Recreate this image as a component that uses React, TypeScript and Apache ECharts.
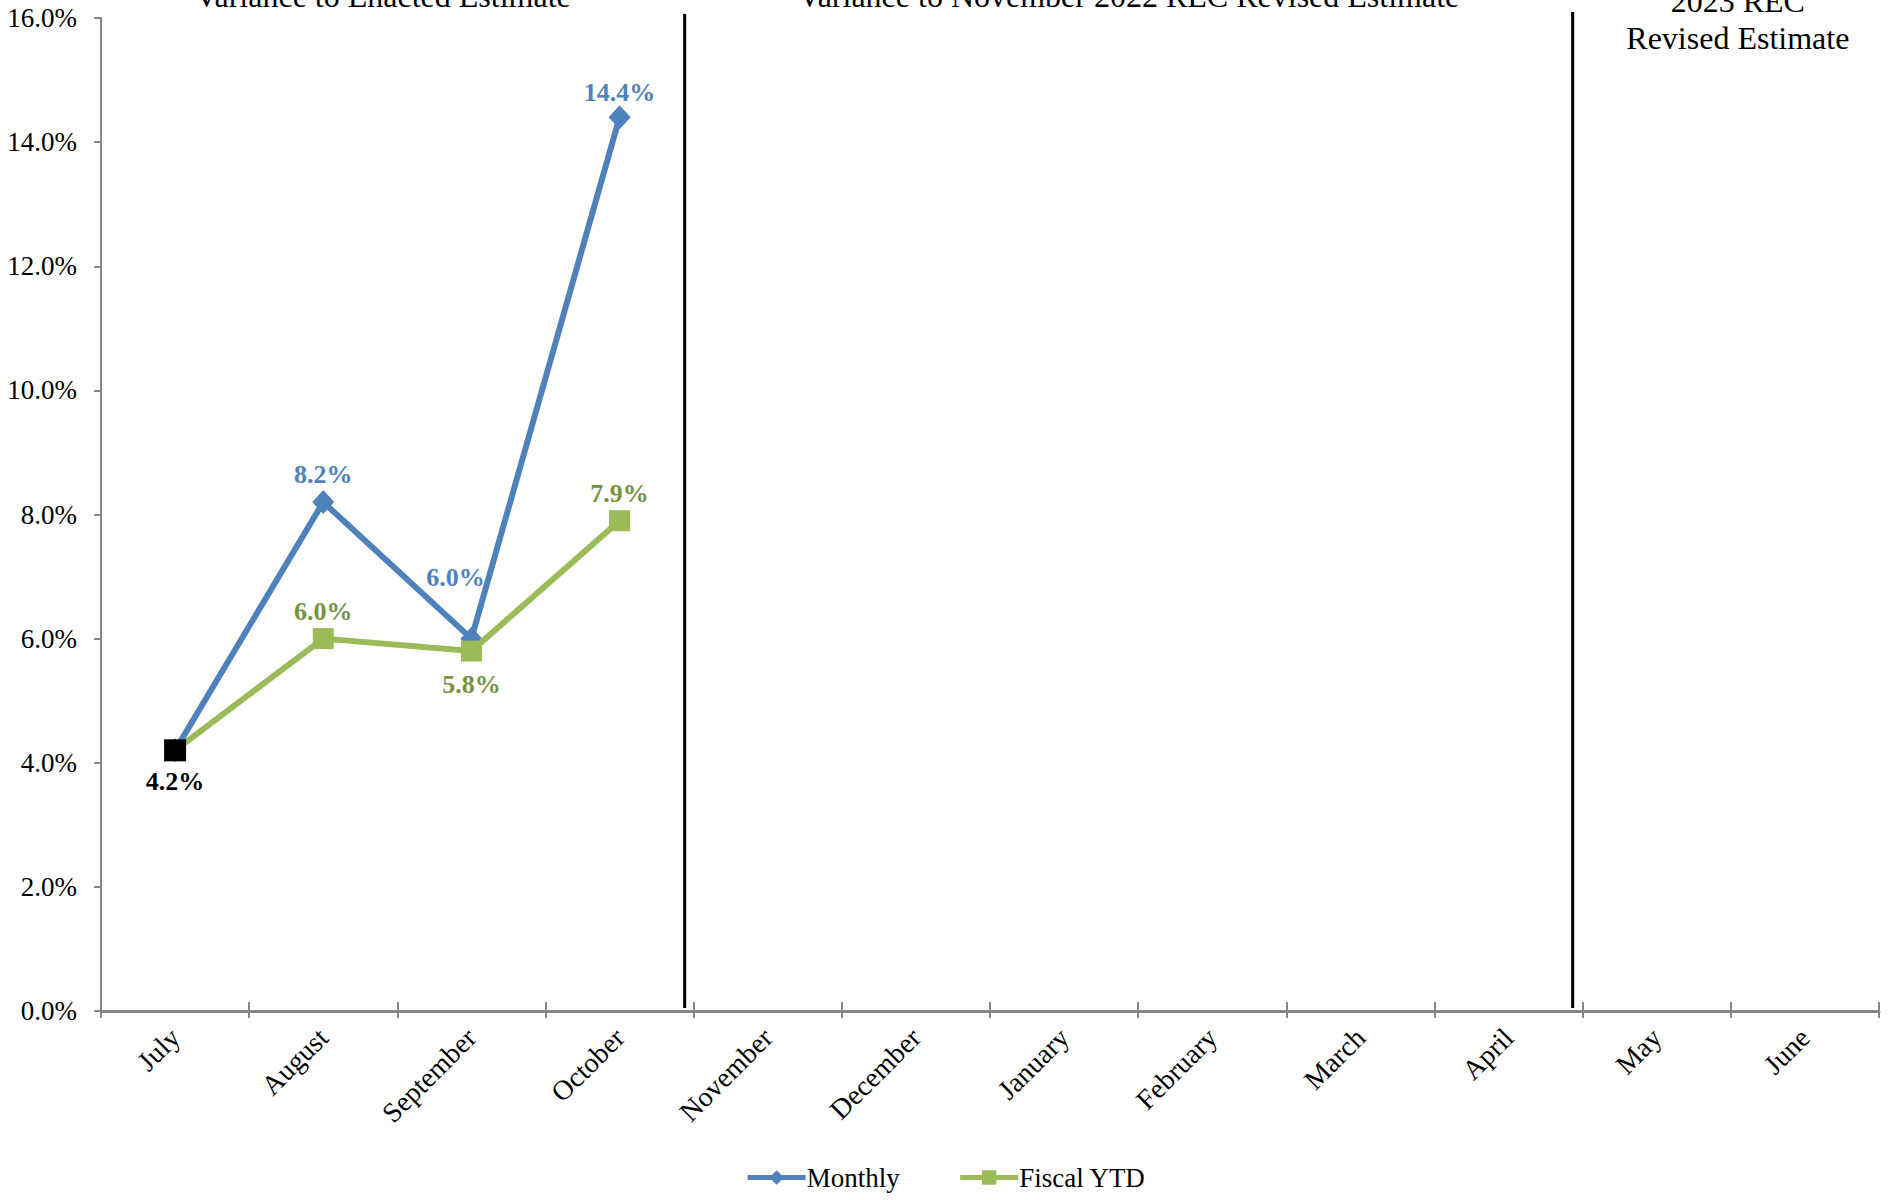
import React, { useEffect, useRef } from "react";
import * as echarts from "echarts";

const months = [
  "July", "August", "September", "October", "November", "December",
  "January", "February", "March", "April", "May", "June",
];
const monthlyValues: (number | null)[] = [4.2, 8.2, 6.0, 14.4, null, null, null, null, null, null, null, null];
const fiscalYtdValues: (number | null)[] = [4.2, 6.0, 5.8, 7.9, null, null, null, null, null, null, null, null];
const seriesNames = ["Monthly", "Fiscal YTD"];
const yMin = 0;
const yMax = 16;
const yInterval = 2;
const sectionTitles = [
  "Variance to Enacted Estimate",
  "Variance to November 2022 REC Revised Estimate",
  "2023 REC",
  "Revised Estimate",
];

const FONT = "'Liberation Serif', 'Times New Roman', serif";
const BLUE = "#4F81BD";
const GREEN = "#9BBB59";
const GREEN_LABEL = "#77933C";
const AXIS_GRAY = "#868686";
const GRID_LEFT = 101;

export default function App() {
  const ref = useRef<HTMLDivElement>(null);

  useEffect(() => {
    if (!ref.current) return;
    const chart = echarts.init(ref.current, null, { renderer: "svg" });

    const labelBase = {
      show: true,
      fontFamily: FONT,
      fontWeight: "bold" as const,
      fontSize: 26,
      formatter: (p: any) => `${Number(p.value).toFixed(1)}%`,
    };

    const monthlyData = monthlyValues.map((v, i) => {
      if (v === null) return null;
      if (i === 0) return { value: v, label: { show: false } };
      if (i === 2)
        return { value: v, label: { position: "top", distance: 3, offset: [-16, -33] } };
      if (i === 3) return { value: v, label: { position: "top", distance: 0 } };
      return { value: v, label: { position: "top", distance: 3 } };
    });

    const fiscalData = fiscalYtdValues.map((v, i) => {
      if (v === null) return null;
      if (i === 0)
        return {
          value: v,
          symbolSize: 22,
          itemStyle: { color: "#000000" },
          label: { position: "bottom", distance: 7, color: "#000000" },
        };
      if (i === 2) return { value: v, label: { position: "bottom", distance: 10 } };
      return { value: v, label: { position: "top", distance: 4 } };
    });

    const option: any = {
      animation: false,
      backgroundColor: "#ffffff",
      grid: { left: GRID_LEFT, right: 12, top: 18, bottom: 189, containLabel: false },
      legend: {
        data: seriesNames,
        bottom: 1200 - 1183 - 13,
        left: "center",
        itemWidth: 58,
        itemHeight: 18,
        itemGap: 58,
        lineStyle: { width: 5 },
        textStyle: { fontFamily: FONT, fontSize: 27, color: "#000000", padding: [0, 0, 0, -4] },
      },
      xAxis: [
        {
          type: "category",
          data: months,
          boundaryGap: true,
          axisLine: { show: true, lineStyle: { color: AXIS_GRAY, width: 3 } },
          axisTick: { show: true, length: 7, lineStyle: { color: AXIS_GRAY, width: 2 } },
          axisLabel: {
            interval: 0,
            rotate: 45,
            margin: 22,
            fontFamily: FONT,
            fontSize: 28,
            color: "#000000",
          },
          splitLine: { show: false },
        },
        {
          type: "category",
          data: months,
          boundaryGap: true,
          position: "bottom",
          axisLine: { show: false },
          axisTick: { show: true, inside: true, length: 9, lineStyle: { color: AXIS_GRAY, width: 2 } },
          axisLabel: { show: false },
          splitLine: { show: false },
        },
      ],
      yAxis: {
        type: "value",
        min: yMin,
        max: yMax,
        interval: yInterval,
        axisLine: { show: true, lineStyle: { color: AXIS_GRAY, width: 2 } },
        axisTick: { show: true, length: 7, lineStyle: { color: AXIS_GRAY, width: 2 } },
        axisLabel: {
          margin: 24,
          fontFamily: FONT,
          fontSize: 27,
          color: "#000000",
          formatter: (v: number) => `${v.toFixed(1)}%`,
        },
        splitLine: { show: false },
      },
      series: [
        {
          name: seriesNames[0],
          type: "line",
          data: monthlyData,
          symbol: "diamond",
          symbolSize: [22, 24],
          showAllSymbol: true,
          color: BLUE,
          lineStyle: { color: BLUE, width: 6 },
          itemStyle: { color: BLUE },
          label: { ...labelBase, color: BLUE },
          z: 2,
        },
        {
          name: seriesNames[1],
          type: "line",
          data: fiscalData,
          symbol: "rect",
          symbolSize: 21,
          showAllSymbol: true,
          color: GREEN,
          lineStyle: { color: GREEN, width: 6 },
          itemStyle: { color: GREEN },
          label: { ...labelBase, color: GREEN_LABEL },
          z: 3,
        },
      ],
    };

    chart.setOption(option);

    const px = (i: number) => chart.convertToPixel({ xAxisIndex: 0 }, i) as number;
    const sep1 = (px(3) + px(4)) / 2 - 9;
    const sep2 = (px(9) + px(10)) / 2 - 10;
    const titleStyle = { fontFamily: FONT, fontSize: 32, fill: "#000000", align: "center", verticalAlign: "middle" };

    chart.setOption({
      graphic: [
        { id: "sep1", type: "line", shape: { x1: sep1, y1: 14, x2: sep1, y2: 1008 }, style: { stroke: "#000000", lineWidth: 3 }, z: 10 },
        { id: "sep2", type: "line", shape: { x1: sep2, y1: 12, x2: sep2, y2: 1008 }, style: { stroke: "#000000", lineWidth: 3 }, z: 10 },
        { id: "t1", type: "text", x: (GRID_LEFT + sep1) / 2 - 10, y: -4, style: { ...titleStyle, text: sectionTitles[0] } },
        { id: "t2", type: "text", x: (sep1 + sep2) / 2, y: -4, style: { ...titleStyle, text: sectionTitles[1] } },
        { id: "t3", type: "text", x: (sep2 + 1891) / 2 + 6, y: 1, style: { ...titleStyle, text: sectionTitles[2] } },
        { id: "t4", type: "text", x: (sep2 + 1891) / 2 + 6, y: 38, style: { ...titleStyle, text: sectionTitles[3] } },
      ],
    });

    return () => chart.dispose();
  }, []);

  return (
    <div
      ref={ref}
      style={{ position: "fixed", left: 0, top: 0, width: 1891, height: 1200, background: "#fff" }}
    />
  );
}
